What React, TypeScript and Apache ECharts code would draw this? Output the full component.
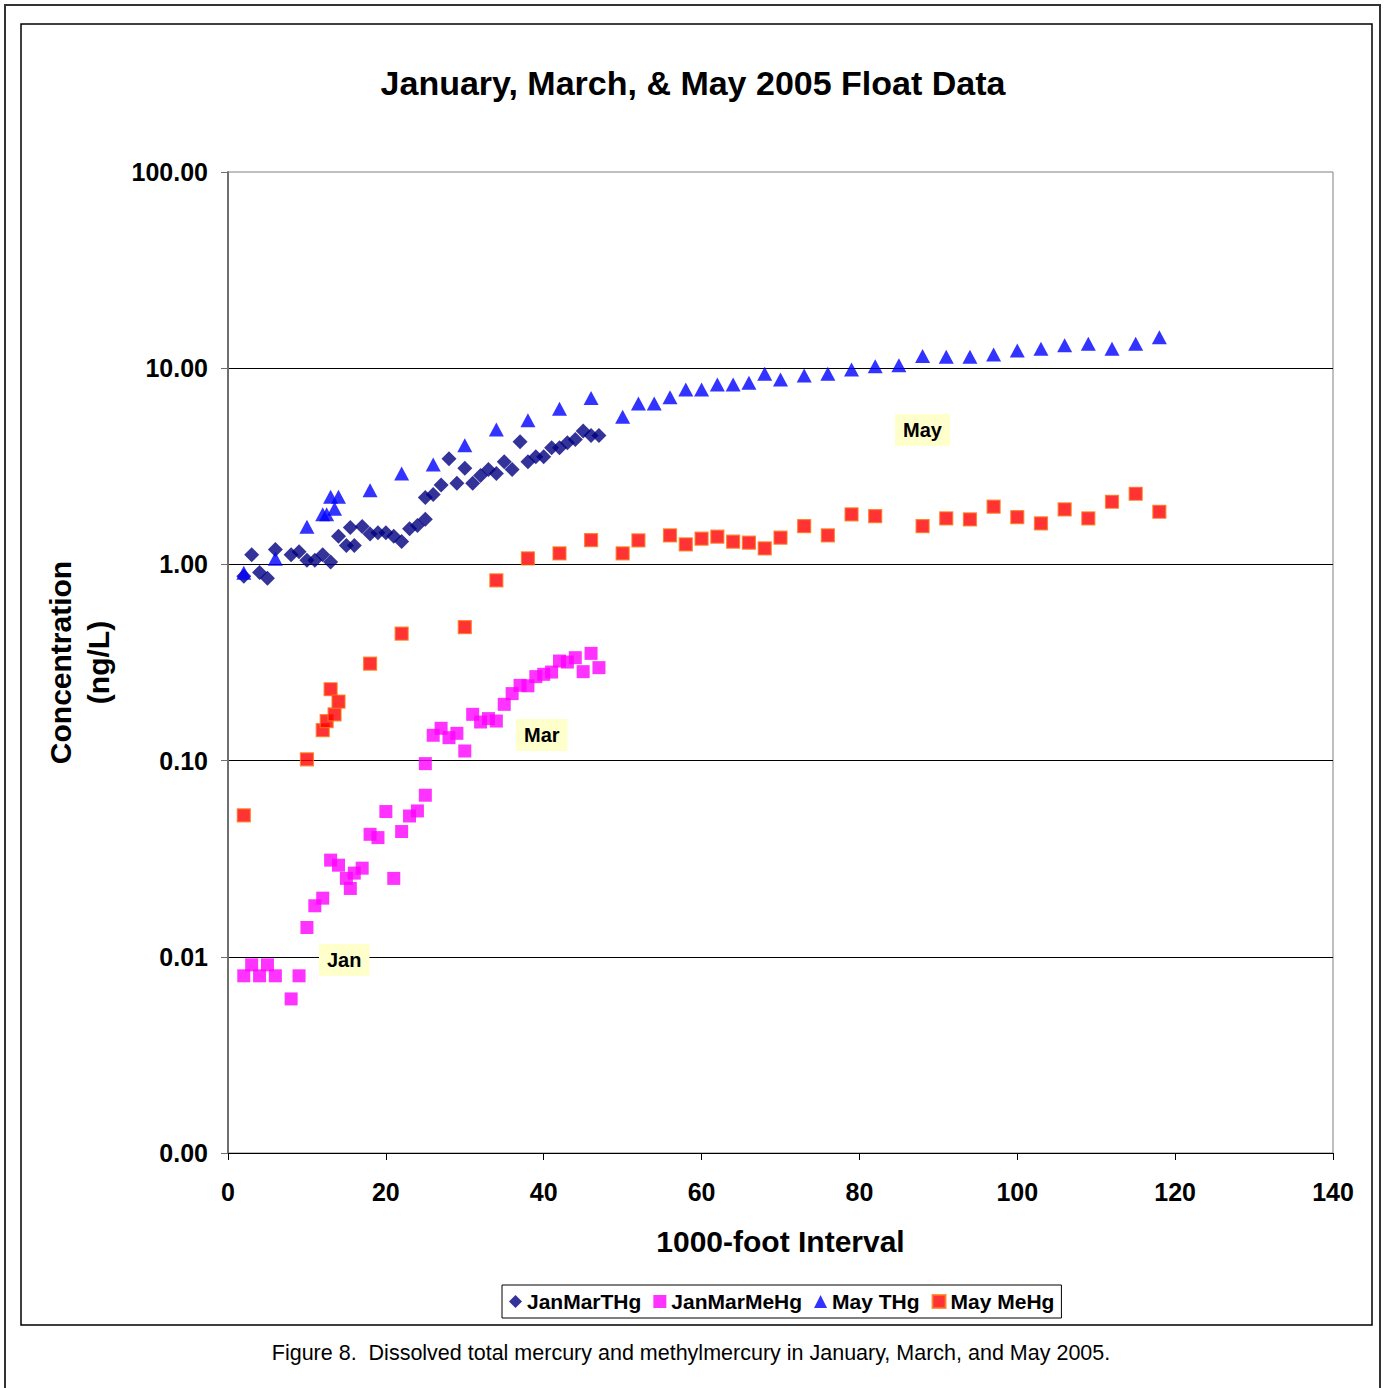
import React, { useEffect, useRef } from "react";
import * as echarts from "echarts";

const FONT = "'Liberation Sans', Arial, Helvetica, sans-serif";

// January / March float samples (shared interval positions)
const janMarX = [
  2, 3, 4, 5, 6, 8, 9, 10, 11, 12, 13, 14, 15, 15.5, 16, 17, 18, 19, 20, 21, 22, 23, 24, 25, 25,
  26, 27, 28, 29, 30, 31, 32, 33, 34, 35, 36, 37, 38, 39, 40, 41, 42, 43, 44, 45, 46, 47,
];
const janMarTHg = [
  0.87, 1.12, 0.91, 0.85, 1.19, 1.12, 1.16, 1.05, 1.05, 1.12, 1.03, 1.39, 1.25, 1.54, 1.25, 1.56,
  1.43, 1.45, 1.45, 1.39, 1.31, 1.52, 1.58, 1.7, 2.19, 2.27, 2.54, 3.46, 2.59, 3.09, 2.59, 2.84,
  3.05, 2.91, 3.34, 3.05, 4.22, 3.34, 3.54, 3.54, 3.93, 3.93, 4.17, 4.33, 4.78, 4.54, 4.54,
];
const janMarMeHg = [
  0.008, 0.0091, 0.008, 0.0091, 0.008, 0.0061, 0.008, 0.0141, 0.0182, 0.0199, 0.0311, 0.0293,
  0.0251, 0.0223, 0.0267, 0.0283, 0.0421, 0.0405, 0.055, 0.0251, 0.0435, 0.0522, 0.0554, 0.0666,
  0.0965, 0.1346, 0.1461, 0.1309, 0.1377, 0.1119, 0.1721, 0.1573, 0.1637, 0.1591, 0.1935, 0.2195,
  0.2418, 0.2406, 0.2679, 0.2752, 0.2827, 0.3217, 0.3179, 0.3346, 0.284, 0.352, 0.2977,
];

// May float samples
const mayTHgX = [
  2, 6, 10, 12, 12.5, 13, 13.5, 14, 18, 22, 26, 30, 34, 38, 42, 46, 50, 52, 54, 56, 58, 60, 62, 64,
  66, 68, 70, 73, 76, 79, 82, 85, 88, 91, 94, 97, 100, 103, 106, 109, 112, 115, 118,
];
const mayTHg = [
  0.907, 1.07, 1.556, 1.8, 1.8, 2.21, 1.92, 2.21, 2.39, 2.91, 3.23, 4.05, 4.87, 5.43, 6.21, 7.05,
  5.66, 6.61, 6.61, 7.12, 7.79, 7.79, 8.26, 8.26, 8.43, 9.37, 8.76, 9.18, 9.37, 9.85, 10.24, 10.36,
  11.55, 11.43, 11.43, 11.74, 12.3, 12.56, 13.1, 13.31, 12.56, 13.31, 14.38,
];
const mayMeHgX = [
  2, 10, 12, 12.5, 13, 13.5, 14, 18, 22, 30, 34, 38, 42, 46, 50, 52, 56, 58, 60, 62, 64, 66, 68, 70,
  73, 76, 79, 82, 88, 91, 94, 97, 100, 103, 106, 109, 112, 115, 118,
];
const mayMeHg = [
  0.0526, 0.1015, 0.143, 0.159, 0.231, 0.172, 0.2, 0.312, 0.444, 0.479, 0.829, 1.073, 1.138, 1.33,
  1.138, 1.325, 1.405, 1.264, 1.352, 1.384, 1.305, 1.29, 1.206, 1.368, 1.567, 1.405, 1.798, 1.762,
  1.567, 1.715, 1.695, 1.968, 1.742, 1.618, 1.906, 1.715, 2.086, 2.292, 1.855,
];

const seriesNames = ["JanMarTHg", "JanMarMeHg", "May THg", "May MeHg"];
const xTicks = { min: 0, max: 140, interval: 20 };
const yRange = { min: 0.001, max: 100 };

const titleText = "January, March, & May 2005 Float Data";
const xName = "1000-foot Interval";
const yName = "Concentration\n(ng/L)";
const caption =
  "Figure 8.  Dissolved total mercury and methylmercury in January, March, and May 2005.";

const zip = (xs: number[], ys: number[]) => xs.map((x, i) => [x, ys[i]]);

export default function App() {
  const ref = useRef<HTMLDivElement>(null);

  useEffect(() => {
    document.body.style.margin = "0";
    const chart = echarts.init(ref.current!, null, { renderer: "svg" });

    const axisText = { fontFamily: FONT, fontWeight: "bold", fontSize: 25, color: "#000" };
    const nameText = { fontFamily: FONT, fontWeight: "bold", fontSize: 30, color: "#000" };
    const annot = (text: string, x: number, y: number) => ({
      type: "text",
      x,
      y,
      z: 100,
      style: {
        text,
        font: `bold 20px ${FONT}`,
        fill: "#000",
        backgroundColor: "#FFFFCC",
        padding: [6, 8, 6, 8],
      },
    });

    chart.setOption({
      animation: false,
      backgroundColor: "#ffffff",
      textStyle: { fontFamily: FONT },
      title: {
        text: titleText,
        left: "center",
        top: 61,
        textStyle: { fontFamily: FONT, fontWeight: "bold", fontSize: 34, color: "#000" },
      },
      grid: {
        left: 228,
        top: 172,
        width: 1105,
        height: 981,
        show: true,
        borderColor: "#808080",
        borderWidth: 1,
        backgroundColor: "transparent",
        containLabel: false,
        outerBoundsMode: "none",
      },
      xAxis: {
        type: "value",
        min: xTicks.min,
        max: xTicks.max,
        interval: xTicks.interval,
        axisLine: { show: true, onZero: false, lineStyle: { color: "#000", width: 1 } },
        axisTick: { show: true, inside: false, length: 7, lineStyle: { color: "#000" } },
        axisLabel: { ...axisText, margin: 26 },
        splitLine: { show: false },
        name: xName,
        nameLocation: "middle",
        nameGap: 73,
        nameTextStyle: nameText,
      },
      yAxis: {
        type: "log",
        logBase: 10,
        min: yRange.min,
        max: yRange.max,
        axisLine: { show: true, lineStyle: { color: "#707070", width: 2 } },
        axisTick: { show: true, inside: false, length: 7, lineStyle: { color: "#707070", width: 1 } },
        axisLabel: {
          ...axisText,
          margin: 20,
          formatter: (v: number) => Number(v).toFixed(2),
        },
        splitLine: {
          show: true,
          showMinLine: false,
          showMaxLine: false,
          lineStyle: { color: "#000", width: 1 },
        },
        minorTick: { show: false },
        name: yName,
        nameLocation: "middle",
        nameGap: 111,
        nameTextStyle: { ...nameText, lineHeight: 38, align: "center" },
      },
      legend: {
        left: 502,
        top: 1285,
        orient: "horizontal",
        borderColor: "#000",
        borderWidth: 1,
        padding: [6, 7, 6, 7],
        itemGap: 12,
        itemWidth: 13,
        itemHeight: 13,
        selectedMode: false,
        textStyle: { fontFamily: FONT, fontWeight: "bold", fontSize: 21, color: "#000" },
        data: [
          { name: seriesNames[0], icon: "diamond" },
          { name: seriesNames[1], icon: "rect" },
          { name: seriesNames[2], icon: "triangle" },
          { name: seriesNames[3], icon: "rect" },
        ],
      },
      series: [
        {
          name: seriesNames[0],
          type: "scatter",
          symbol: "diamond",
          symbolSize: 15,
          itemStyle: { color: "#000080" },
          data: zip(janMarX, janMarTHg),
        },
        {
          name: seriesNames[1],
          type: "scatter",
          symbol: "rect",
          symbolSize: 13,
          itemStyle: { color: "#FF00FF" },
          data: zip(janMarX, janMarMeHg),
        },
        {
          name: seriesNames[2],
          type: "scatter",
          symbol: "triangle",
          symbolSize: [15, 14],
          itemStyle: { color: "#0000FF" },
          data: zip(mayTHgX, mayTHg),
        },
        {
          name: seriesNames[3],
          type: "scatter",
          symbol: "rect",
          symbolSize: 13,
          itemStyle: { color: "#FF0000", borderColor: "#FF7A1A", borderWidth: 1.2 },
          data: zip(mayMeHgX, mayMeHg),
        },
      ],
      graphic: [
        {
          type: "rect",
          silent: true,
          z: -10,
          shape: { x: 5, y: 5, width: 1375, height: 1400 },
          style: { fill: "none", stroke: "#333", lineWidth: 2 },
        },
        {
          type: "rect",
          silent: true,
          z: -10,
          shape: { x: 21, y: 24, width: 1351, height: 1301 },
          style: { fill: "none", stroke: "#000", lineWidth: 1.5 },
        },
        {
          type: "text",
          x: 691,
          y: 1353,
          style: {
            text: caption,
            font: `21.5px ${FONT}`,
            fill: "#000",
            align: "center",
            verticalAlign: "middle",
          },
        },
        annot("May", 895, 414),
        annot("Mar", 516, 719),
        annot("Jan", 319, 944),
      ],
    });

    return () => chart.dispose();
  }, []);

  return <div ref={ref} style={{ width: 1386, height: 1388 }} />;
}
